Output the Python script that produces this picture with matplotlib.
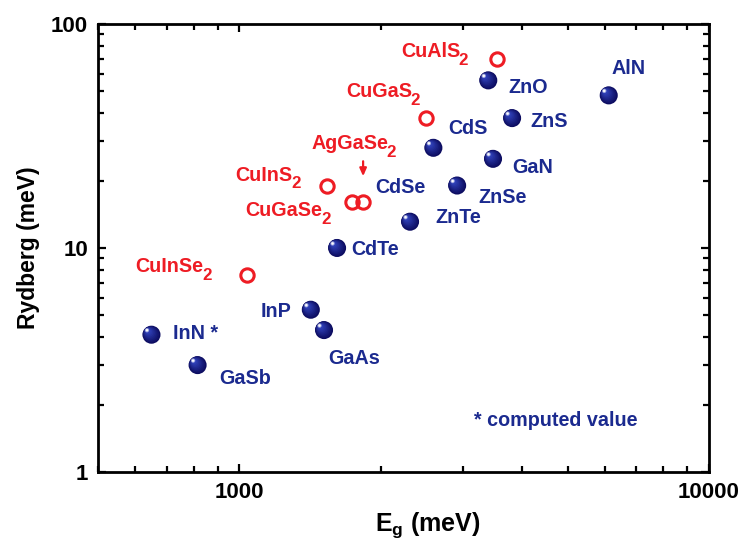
import matplotlib
matplotlib.use("Agg")
import matplotlib.pyplot as plt
import matplotlib.transforms as mtransforms
from matplotlib.ticker import FuncFormatter, NullFormatter, LogLocator
import numpy as np

plt.rcParams['font.family'] = ['Liberation Sans', 'DejaVu Sans']
plt.rcParams['font.weight'] = 'bold'
plt.rcParams['mathtext.fontset'] = 'custom'
plt.rcParams['mathtext.rm'] = 'Liberation Sans:bold'
plt.rcParams['mathtext.it'] = 'Liberation Sans:bold'
plt.rcParams['mathtext.bf'] = 'Liberation Sans:bold'

# binary semiconductors (blue balls)
binary_names = ['ZnO', 'AlN', 'ZnS', 'CdS', 'GaN', 'ZnSe', 'ZnTe', 'CdTe',
                'InP', 'GaAs', 'InN *', 'GaSb']
binary_eg = [3390, 6120, 3810, 2590, 3470, 2910, 2310, 1615, 1420, 1515, 650, 815]
binary_ry = [56, 48, 38, 28, 25, 19, 13.1, 10, 5.3, 4.3, 4.1, 3.0]

# chalcopyrites (red open circles), formula body + subscript
chalco_names = ['CuAlS', 'CuGaS', 'CuInS', 'CuGaSe', 'AgGaSe', 'CuInSe']
chalco_sub = ['2', '2', '2', '2', '2', '2']
chalco_eg = [3540, 2500, 1540, 1740, 1835, 1040]
chalco_ry = [70, 38, 19, 16, 16, 7.6]

BLUE = '#1b2a8f'
RED = '#ee1c24'

# label offsets in pixels (dx, dy, ha)
binary_offsets = {
    'ZnO': (20, -7, 'left'), 'AlN': (3, 27, 'left'), 'ZnS': (18, -3, 'left'),
    'CdS': (15, 19, 'left'), 'GaN': (19, -9, 'left'), 'ZnSe': (21, -12, 'left'),
    'ZnTe': (25, 4, 'left'), 'CdTe': (14, -2, 'left'), 'InP': (-19, -2, 'right'),
    'GaAs': (4, -28, 'left'), 'InN *': (22, 1, 'left'), 'GaSb': (22, -13, 'left'),
}
# right edge of formula body and its baseline, relative to the point (pixels)
chalco_offsets = [(-37, 2), (-14, 21), (-35, 5), (-30, -14), (25, 53), (-44, 3)]

fig = plt.figure(figsize=(7.45, 5.45), dpi=100)
ax = fig.add_axes([0.1315, 0.134, 0.820, 0.822])
ax.set_xscale('log')
ax.set_yscale('log')
ax.set_xlim(500, 10000)
ax.set_ylim(1, 100)


def draw_spheres(ax, xs, ys, diam=13.0, layers=9):
    # fake shading: stacked circles shifted towards the highlight
    base = np.array([0.05, 0.05, 0.38])
    mid = np.array([0.20, 0.27, 0.75])
    for i in range(layers):
        t = i / (layers - 1)
        f = 1.0 - 0.8 * t
        shift = (1 - f) * diam * 0.5 * 0.55
        col = base * (1 - t) + mid * t
        tr = ax.transData + mtransforms.ScaledTranslation(-shift / 72, shift / 72,
                                                          fig.dpi_scale_trans)
        ax.scatter(xs, ys, s=(diam * f) ** 2, color=col, edgecolors='none',
                   transform=tr, zorder=3 + i * 0.01)
    for f, a in [(0.24, 0.5), (0.14, 0.95)]:
        shift = diam * 0.5 * 0.5
        tr = ax.transData + mtransforms.ScaledTranslation(-shift / 72, shift / 72,
                                                          fig.dpi_scale_trans)
        ax.scatter(xs, ys, s=(diam * f) ** 2, color='white', alpha=a,
                   edgecolors='none', transform=tr, zorder=3.2)


draw_spheres(ax, binary_eg, binary_ry)
ax.plot(chalco_eg, chalco_ry, 'o', ms=9.6, mfc='none', mec=RED, mew=2.2,
        zorder=4)

px = 0.72  # pixels -> points
for name, x, y in zip(binary_names, binary_eg, binary_ry):
    dx, dy, ha = binary_offsets[name]
    ax.annotate(name, (x, y), xytext=(dx * px, dy * px), textcoords='offset points',
                ha=ha, va='center', color=BLUE, fontsize=14.2, fontweight='bold')

for name, sub, x, y, (dx, dy) in zip(chalco_names, chalco_sub, chalco_eg,
                                     chalco_ry, chalco_offsets):
    body = ax.annotate(name, (x, y), xytext=(dx * px, dy * px),
                       textcoords='offset points', ha='right', va='baseline',
                       color=RED, fontsize=14.2, fontweight='bold')
    ax.annotate(sub, (1, 0), xycoords=body, xytext=(-1.0, -3.9 * px),
                textcoords='offset points', ha='left', va='baseline',
                color=RED, fontsize=12.2, fontweight='bold')

# CdSe label (its point sits behind the chalcopyrite circles)
ax.text(1950, 18.7, 'CdSe', color=BLUE, fontsize=14.2, fontweight='bold',
        ha='left', va='center')

# arrow to AgGaSe2
ax.annotate('', (chalco_eg[4], chalco_ry[4]), xytext=(0, 41 * px),
            textcoords='offset points',
            arrowprops=dict(arrowstyle='-|>,head_length=0.45,head_width=0.2',
                            color=RED, lw=1.6, shrinkA=0, shrinkB=26 * px))

ax.text(0.75, 0.116, '* computed value', transform=ax.transAxes, color=BLUE,
        fontsize=14.2, fontweight='bold', ha='center', va='center')

for s in ax.spines.values():
    s.set_linewidth(2.0)
ax.tick_params(which='both', direction='in', top=True, right=True, width=1.6,
               labelsize=16, pad=7)
ax.tick_params(which='major', length=6)
ax.tick_params(which='minor', length=4)
for axis in (ax.xaxis, ax.yaxis):
    axis.set_major_locator(LogLocator(base=10))
    axis.set_minor_locator(LogLocator(base=10, subs=np.arange(2, 10)))
    axis.set_major_formatter(FuncFormatter(lambda v, _: f'{v:g}'))
    axis.set_minor_formatter(NullFormatter())

ax.set_xlabel('E$_g$ (meV)', fontsize=18, fontweight='bold')
ax.xaxis.set_label_coords(0.54, -0.085)
ax.set_ylabel('Rydberg (meV)', fontsize=16.5, fontweight='bold')
ax.yaxis.set_label_coords(-0.095, 0.5)

fig.savefig('out.png', dpi=100)
